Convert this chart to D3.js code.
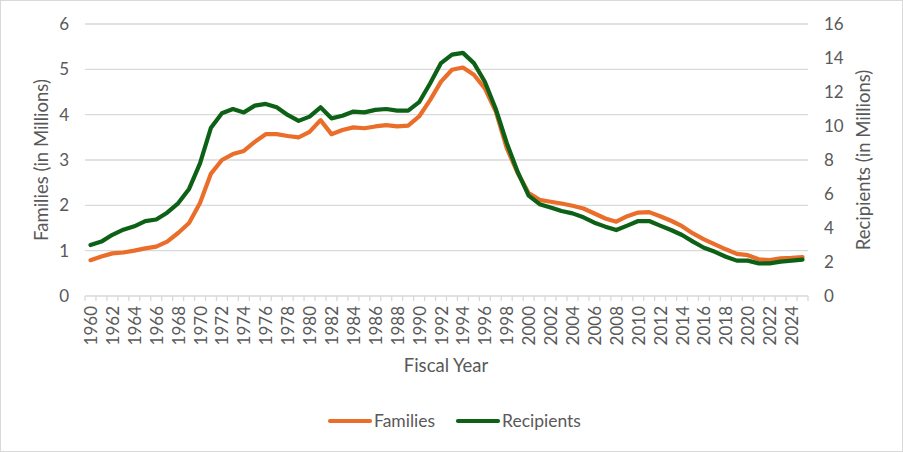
<!DOCTYPE html>
<html>
<head>
<meta charset="utf-8">
<script src="https://cdn.jsdelivr.net/npm/d3@7"></script>
<style>
  body { margin: 0; background: #fff; }
  text { font-family: Lato, "Open Sans", sans-serif; fill: #595959; }
</style>
</head>
<body>
<div id="chart"></div>
<script>
// fiscal years 1960..2025
var years = d3.range(1960, 2026);

// average monthly families, millions (left axis)
var families = [0.79, 0.87, 0.94, 0.96, 1.00, 1.05, 1.09, 1.20, 1.39, 1.61,
                2.05, 2.70, 3.00, 3.13, 3.20, 3.40, 3.57, 3.57, 3.53, 3.50,
                3.62, 3.88, 3.57, 3.66, 3.72, 3.70, 3.74, 3.77, 3.74, 3.76,
                3.96, 4.32, 4.73, 4.99, 5.04, 4.88, 4.58, 4.07, 3.26, 2.71,
                2.27, 2.12, 2.08, 2.04, 1.99, 1.93, 1.82, 1.71, 1.64, 1.76,
                1.84, 1.85, 1.76, 1.66, 1.54, 1.38, 1.25, 1.14, 1.03, 0.93,
                0.90, 0.81, 0.79, 0.83, 0.84, 0.86];

// average monthly recipients, millions (right axis)
var recipients = [3.0, 3.2, 3.6, 3.9, 4.1, 4.4, 4.5, 4.9, 5.45, 6.3,
                  7.8, 9.9, 10.75, 11.0, 10.8, 11.2, 11.3, 11.1, 10.65, 10.3,
                  10.55, 11.1, 10.45, 10.6, 10.85, 10.8, 10.95, 11.0, 10.9, 10.9,
                  11.4, 12.5, 13.7, 14.2, 14.3, 13.7, 12.6, 11.0, 9.0, 7.3,
                  5.9, 5.4, 5.2, 5.0, 4.86, 4.63, 4.31, 4.08, 3.88, 4.14,
                  4.41, 4.41, 4.14, 3.88, 3.59, 3.2, 2.84, 2.6, 2.31, 2.08,
                  2.08, 1.92, 1.92, 2.02, 2.08, 2.14];

var leftTicks = [0, 1, 2, 3, 4, 5, 6];
var rightTicks = [0, 2, 4, 6, 8, 10, 12, 14, 16];

var W = 903, H = 452;
var margin = {top: 24, right: 95, bottom: 156, left: 85};
var pw = W - margin.left - margin.right,
    ph = H - margin.top - margin.bottom;

var orange = "#EA6D29", green = "#0D6116";

var svg = d3.select("#chart").append("svg")
    .attr("width", W)
    .attr("height", H);

// outer chart border
svg.append("rect")
    .attr("x", 0.5).attr("y", 0.5)
    .attr("width", W - 1).attr("height", H - 1)
    .attr("fill", "#fff")
    .attr("stroke", "#d9d9d9");

var g = svg.append("g")
    .attr("transform", "translate(" + margin.left + "," + margin.top + ")");

var x = d3.scaleBand().domain(years).range([0, pw]);
var yL = d3.scaleLinear().domain([0, 6]).range([ph, 0]);
var yR = d3.scaleLinear().domain([0, 16]).range([ph, 0]);

// gridlines
g.append("g")
    .selectAll("line")
    .data(leftTicks)
    .enter().append("line")
    .attr("x1", 0).attr("x2", pw)
    .attr("y1", function(d) { return yL(d); })
    .attr("y2", function(d) { return yL(d); })
    .attr("stroke", "#d9d9d9")
    .attr("stroke-width", 1.3);

// left axis
var axL = g.append("g")
    .call(d3.axisLeft(yL).tickValues(leftTicks).tickFormat(d3.format("d"))
        .tickSize(0).tickPadding(16));
axL.select(".domain").remove();
axL.selectAll("text").style("font-size", "17px").attr("fill", "#595959");

// right axis
var axR = g.append("g")
    .attr("transform", "translate(" + pw + ",0)")
    .call(d3.axisRight(yR).tickValues(rightTicks).tickFormat(d3.format("d"))
        .tickSize(0).tickPadding(16));
axR.select(".domain").remove();
axR.selectAll("text").style("font-size", "17px").attr("fill", "#595959");

// x axis tick marks at band edges
var edges = years.map(function(d) { return x(d); }).concat([pw]);
g.append("g")
    .selectAll("line")
    .data(edges)
    .enter().append("line")
    .attr("x1", function(d) { return d; })
    .attr("x2", function(d) { return d; })
    .attr("y1", ph).attr("y2", ph + 5)
    .attr("stroke", "#d9d9d9")
    .attr("stroke-width", 1.3);

// x labels every 2 years, rotated
g.append("g")
    .selectAll("text")
    .data(years.filter(function(d) { return d % 2 === 0; }))
    .enter().append("text")
    .attr("transform", function(d) {
        return "translate(" + (x(d) + x.bandwidth() / 2 + 6.5) + "," + (ph + 10) + ") rotate(-90)";
    })
    .attr("text-anchor", "end")
    .style("font-size", "17px")
    .text(function(d) { return d; });

// lines
var lineL = d3.line()
    .x(function(d, i) { return x(years[i]) + x.bandwidth() / 2; })
    .y(function(d) { return yL(d); });
var lineR = d3.line()
    .x(function(d, i) { return x(years[i]) + x.bandwidth() / 2; })
    .y(function(d) { return yR(d); });

g.append("path")
    .datum(families)
    .attr("d", lineL)
    .attr("fill", "none")
    .attr("stroke", orange)
    .attr("stroke-width", 4.2)
    .attr("stroke-linejoin", "round")
    .attr("stroke-linecap", "round");

g.append("path")
    .datum(recipients)
    .attr("d", lineR)
    .attr("fill", "none")
    .attr("stroke", green)
    .attr("stroke-width", 4.2)
    .attr("stroke-linejoin", "round")
    .attr("stroke-linecap", "round");

// axis titles
svg.append("text")
    .attr("transform", "translate(48," + (margin.top + ph / 2) + ") rotate(-90)")
    .attr("text-anchor", "middle")
    .style("font-size", "18.5px")
    .text("Families (in Millions)");

svg.append("text")
    .attr("transform", "translate(870," + (margin.top + ph / 2) + ") rotate(-90)")
    .attr("text-anchor", "middle")
    .style("font-size", "18.5px")
    .text("Recipients (in Millions)");

svg.append("text")
    .attr("x", 446).attr("y", 372)
    .attr("text-anchor", "middle")
    .style("font-size", "18.5px")
    .text("Fiscal Year");

// legend
var legend = [{name: "Families", color: orange, x: 328}, {name: "Recipients", color: green, x: 456}];
var lg = svg.append("g").selectAll("g")
    .data(legend)
    .enter().append("g")
    .attr("transform", function(d) { return "translate(" + d.x + ",421)"; });
lg.append("line")
    .attr("x1", 2).attr("x2", 42)
    .attr("stroke", function(d) { return d.color; })
    .attr("stroke-width", 4.2)
    .attr("stroke-linecap", "round");
lg.append("text")
    .attr("x", 46).attr("y", 6)
    .style("font-size", "17.5px")
    .text(function(d) { return d.name; });
</script>
</body>
</html>
